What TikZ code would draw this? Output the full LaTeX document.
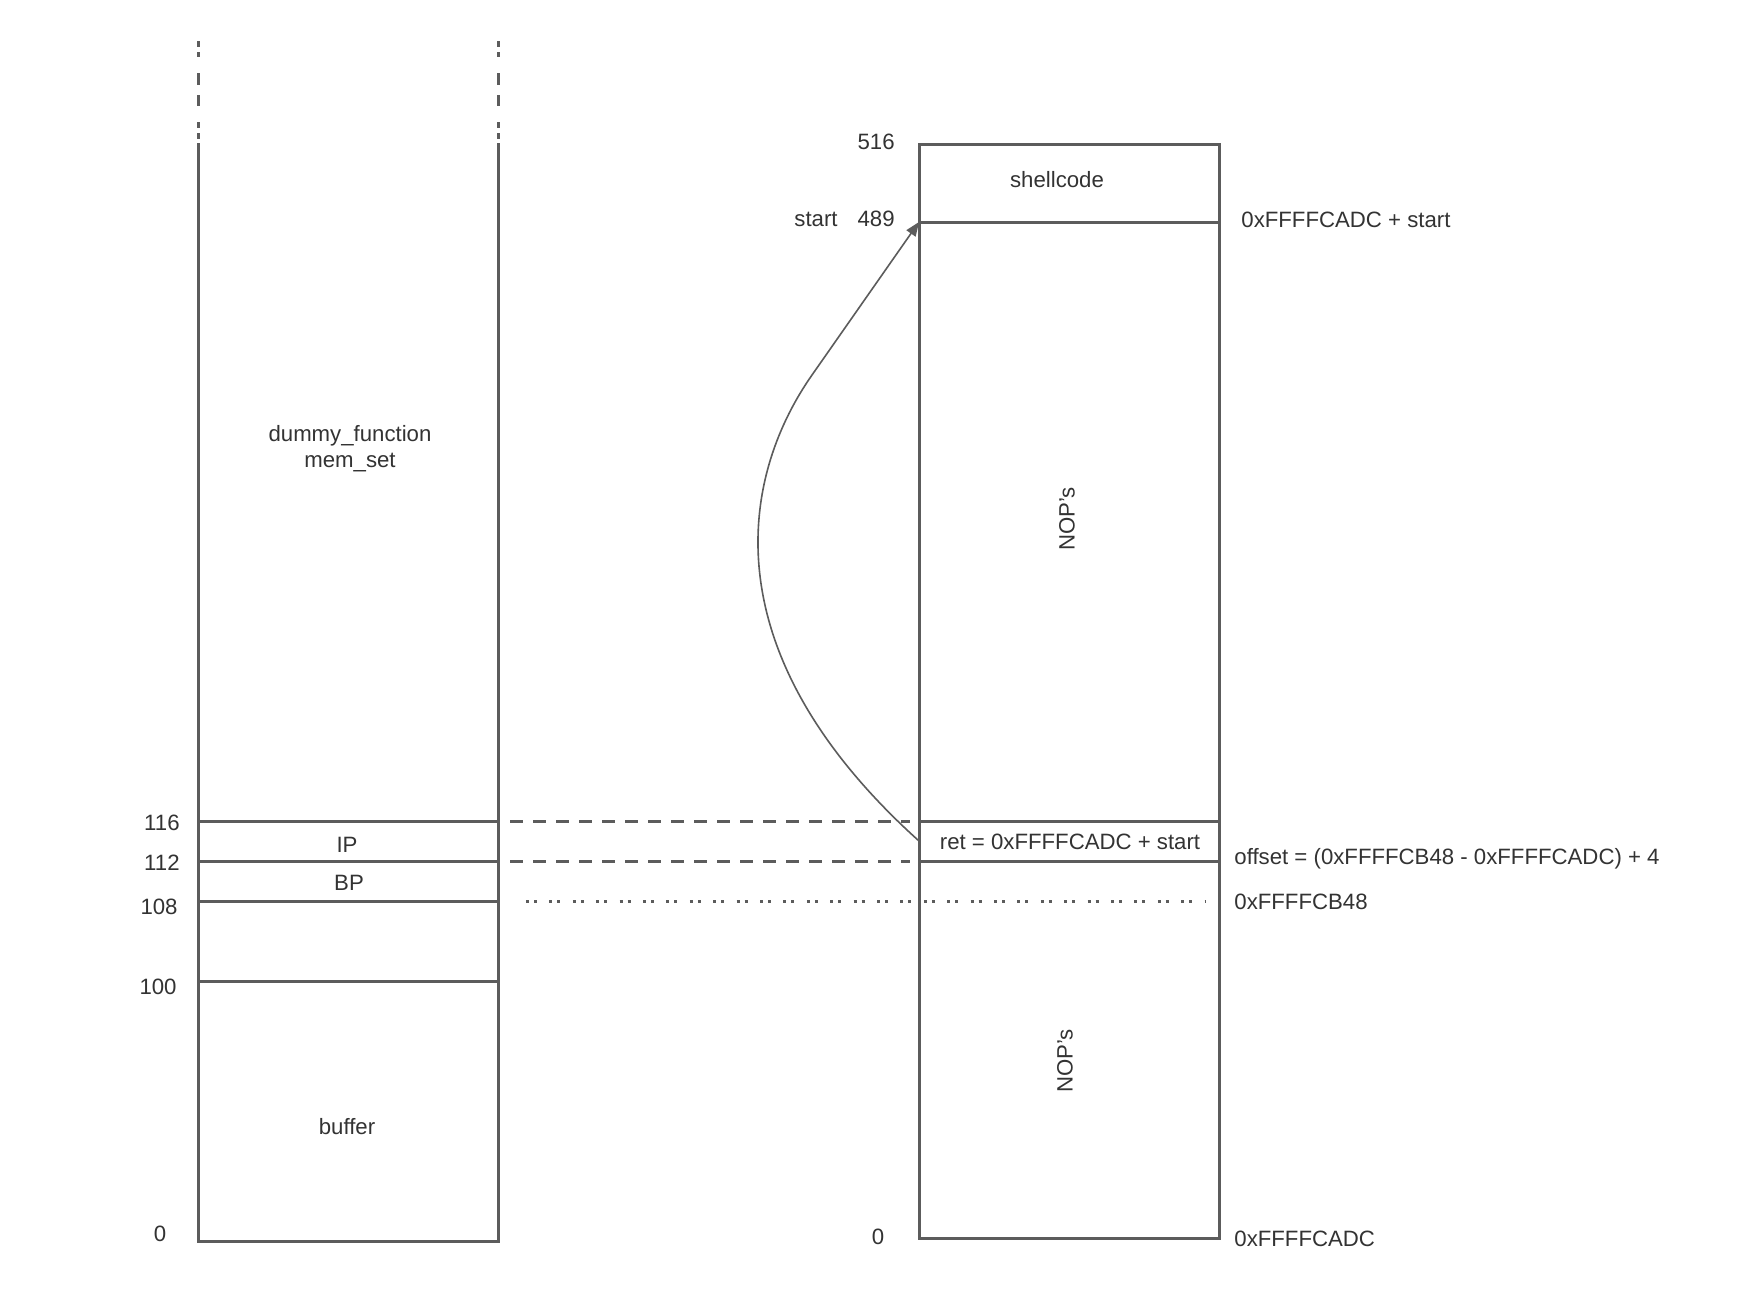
\documentclass[tikz,border=0pt]{standalone}
\usepackage{fontspec}
\setmainfont{Liberation Sans}
\usepackage{xcolor}
\usetikzlibrary{arrows.meta}
\definecolor{stackgray}{HTML}{5C5C5C}
\definecolor{stacktext}{HTML}{333333}

\begin{document}
\begin{tikzpicture}[x=0.5pt, y=-0.5pt, >={Triangle[length=7pt, width=5.5pt]},
  wall/.style={stackgray, line width=1.5pt},
  lbl/.style={text=stacktext, font=\fontsize{11.1}{13}\selectfont, inner sep=1pt},
  link/.style={stackgray, line width=1.5pt, dash pattern=on 6.5pt off 5pt},
  pairdots/.style={stackgray, line width=1.5pt, dash pattern=on 1.5pt off 2.5pt on 1.5pt off 6.2pt},
  topcut/.style={stackgray, line width=1.5pt, dash pattern=on 3pt off 2.5pt on 2.5pt off 8pt on 6pt off 5pt on 5.5pt off 8pt on 3pt off 2.5pt on 3pt off 2pt}]
  \useasboundingbox[fill=white] (0,0) rectangle (1738,1312);

  % left stack (dummy_function frame)
  \draw[topcut] (198,41) -- (198,143);
  \draw[topcut] (498,41) -- (498,143);
  \draw[wall] (198,143) -- (198,1241) -- (498,1241) -- (498,143);
  \draw[wall] (198,821) -- (498,821);
  \draw[wall] (198,861) -- (498,861);
  \draw[wall] (198,901) -- (498,901);
  \draw[wall] (198,981) -- (498,981);

  \node[lbl] (fname) at (350,436) {dummy\_function};
  \node[lbl] (fset) at (350,463) {mem\_set};
  \node[lbl] (ip) at (347,845) {IP};
  \node[lbl] (bp) at (349,883) {BP};
  \node[lbl] (buf) at (347,1127) {buffer};
  \node[lbl, anchor=east] (n116) at (182,823) {116};
  \node[lbl, anchor=east] (n112) at (182,863) {112};
  \node[lbl, anchor=east] (n108) at (180,907) {108};
  \node[lbl, anchor=east] (n100) at (179,987) {100};
  \node[lbl] (n0) at (160,1234) {0};

  % right stack (payload)
  \draw[wall] (919,144) rectangle (1219,1238);
  \draw[wall] (919,222) -- (1219,222);
  \draw[wall] (919,821) -- (1219,821);
  \draw[wall] (919,861) -- (1219,861);

  \node[lbl] (shell) at (1057,180) {shellcode};
  \node[lbl, rotate=90] (nopa) at (1067,519) {NOP's};
  \node[lbl, rotate=90] (nopb) at (1065,1061) {NOP's};
  \node[lbl] (ret) at (1070,842) {ret = 0xFFFFCADC + start};
  \node[lbl, anchor=east] (n516) at (897,142) {516};
  \node[lbl, anchor=east] (n489) at (897,219) {489};
  \node[lbl, anchor=east] (start) at (840,219) {start};
  \node[lbl] (r0) at (878,1237) {0};
  \node[lbl, anchor=west] (addstart) at (1239,220) {0xFFFFCADC + start};
  \node[lbl, anchor=west] (offset) at (1232,859) {offset = (0xFFFFCB48 - 0xFFFFCADC) + 4};
  \node[lbl, anchor=west] (cb48) at (1232,902) {0xFFFFCB48};
  \node[lbl, anchor=west] (cadc) at (1232,1239) {0xFFFFCADC};

  % links between the stacks
  \coordinate (a116) at (510,821);
  \coordinate (b116) at (910,821);
  \coordinate (a112) at (510,861);
  \coordinate (b112) at (910,861);
  \coordinate (a108) at (526,901);
  \coordinate (b108) at (1205,901);
  \draw[link] (a116) -- (b116);
  \draw[link] (a112) -- (b112);
  \draw[pairdots] (a108) -- (b108);

  % return address jumps into the NOP sled
  \coordinate (retfrom) at (919,841);
  \coordinate (bend) at (812,375);
  \coordinate (retto) at (919,222);
  \draw[->, stackgray, line width=0.8pt] (retfrom) .. controls (707,650) and (742,475) .. (bend) -- (retto);
\end{tikzpicture}
\end{document}
